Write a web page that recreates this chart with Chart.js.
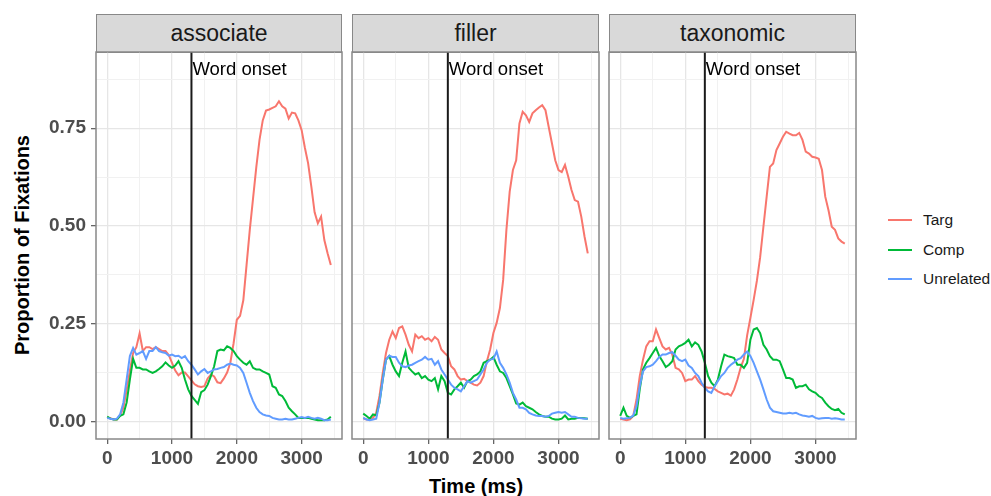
<!DOCTYPE html>
<html>
<head>
<meta charset="utf-8">
<script src="https://cdn.jsdelivr.net/npm/chart.js@4"></script>
<style>
  body { margin: 0; width: 991px; height: 496px; background: #fff; position: relative; overflow: hidden;
         font-family: "Liberation Sans", Arial, sans-serif; }
  canvas { position: absolute; }
  .strip { position: absolute; top: 14px; height: 39px; box-sizing: border-box; background: #d9d9d9;
           border: 1.5px solid #888; text-align: center; font-size: 23px; line-height: 36px; color: #1a1a1a; }
  .axis-title { position: absolute; font-weight: bold; font-size: 20px; color: #000; white-space: nowrap;
                transform: translate(-50%, -50%); }
  .legend-key { position: absolute; left: 888px; width: 24px; height: 2px; }
  .legend-label { position: absolute; left: 923px; font-size: 15.5px; color: #1a1a1a; transform: translateY(-50%); }
</style>
</head>
<body>

<div class="strip" style="left:96px;width:246px">associate</div>
<div class="strip" style="left:352px;width:247px">filler</div>
<div class="strip" style="left:609px;width:247px">taxonomic</div>

<canvas id="panel-associate" width="306" height="430" style="left:40px;top:44px"></canvas>
<canvas id="panel-filler" width="255" height="430" style="left:348px;top:44px"></canvas>
<canvas id="panel-taxonomic" width="255" height="430" style="left:605px;top:44px"></canvas>

<div class="axis-title" style="left:22px;top:245px;transform:translate(-50%,-50%) rotate(-90deg)">Proportion of Fixations</div>
<div class="axis-title" style="left:476px;top:486px">Time (ms)</div>

<div class="legend-key" style="top:219px;background:#F8766D"></div>
<div class="legend-label" style="top:220px">Targ</div>
<div class="legend-key" style="top:249px;background:#00BA38"></div>
<div class="legend-label" style="top:250px">Comp</div>
<div class="legend-key" style="top:278px;background:#619CFF"></div>
<div class="legend-label" style="top:279px">Unrelated</div>

<script>
// ── Data ──────────────────────────────────────────────────────────────────────

const timeMs = [
  0, 50, 100, 150, 200, 250, 300, 350, 400, 450,
  500, 550, 600, 650, 700, 750, 800, 850, 900, 950,
  1000, 1050, 1100, 1150, 1200, 1250, 1300, 1350, 1400, 1450,
  1500, 1550, 1600, 1650, 1700, 1750, 1800, 1850, 1900, 1950,
  2000, 2050, 2100, 2150, 2200, 2250, 2300, 2350, 2400, 2450,
  2500, 2550, 2600, 2650, 2700, 2750, 2800, 2850, 2900, 2950,
  3000, 3050, 3100, 3150, 3200, 3250, 3300, 3350, 3400, 3450
];

const assocTarg = [
  0.01, 0.008, 0.005, 0.005, 0.015, 0.035, 0.08, 0.13, 0.175, 0.19,
  0.225, 0.18, 0.19, 0.19, 0.185, 0.19, 0.185, 0.18, 0.18, 0.17,
  0.15, 0.13, 0.118, 0.125, 0.125, 0.115, 0.105, 0.095, 0.09, 0.088,
  0.09, 0.11, 0.12, 0.115, 0.1, 0.098, 0.11, 0.125, 0.15, 0.2,
  0.26, 0.27, 0.31, 0.40, 0.49, 0.57, 0.65, 0.72, 0.77, 0.795,
  0.798, 0.802, 0.806, 0.819, 0.806, 0.8, 0.775, 0.79, 0.788, 0.77,
  0.745, 0.7, 0.66, 0.6, 0.535, 0.507, 0.524, 0.464, 0.43, 0.4
];
const assocComp = [
  0.012, 0.007, 0.005, 0.005, 0.014, 0.018, 0.048, 0.107, 0.16, 0.137,
  0.137, 0.133, 0.133, 0.128, 0.124, 0.128, 0.134, 0.141, 0.151, 0.143,
  0.137, 0.143, 0.154, 0.137, 0.107, 0.082, 0.065, 0.055, 0.045, 0.075,
  0.08, 0.094, 0.116, 0.141, 0.18, 0.184, 0.182, 0.192, 0.188, 0.18,
  0.167, 0.158, 0.15, 0.145, 0.154, 0.137, 0.133, 0.133, 0.128, 0.124,
  0.12, 0.09, 0.086, 0.069, 0.065, 0.052, 0.035, 0.026, 0.018, 0.009,
  0.009, 0.009, 0.009, 0.007, 0.005, 0.003, 0.003, 0.003, 0.005, 0.012
];
const assocUnrel = [
  0.009, 0.007, 0.005, 0.007, 0.018, 0.048, 0.107, 0.167, 0.188, 0.171,
  0.175, 0.18, 0.16, 0.18, 0.18, 0.19, 0.18, 0.177, 0.175, 0.168,
  0.171, 0.167, 0.168, 0.162, 0.167, 0.154, 0.145, 0.133, 0.12, 0.128,
  0.134, 0.124, 0.128, 0.133, 0.134, 0.137, 0.139, 0.145, 0.148, 0.145,
  0.143, 0.137, 0.124, 0.099, 0.073, 0.052, 0.035, 0.024, 0.018, 0.015,
  0.014, 0.009, 0.007, 0.005, 0.005, 0.007, 0.005, 0.005, 0.007, 0.009,
  0.011, 0.009, 0.012, 0.009, 0.007, 0.009, 0.007, 0.003, 0.003, 0.005
];

const fillerTarg = [
  0.008, 0.005, 0.005, 0.009, 0.022, 0.065, 0.124, 0.175, 0.209, 0.23,
  0.213, 0.239, 0.243, 0.222, 0.196, 0.179, 0.222, 0.213, 0.218, 0.209,
  0.213, 0.205, 0.216, 0.209, 0.184, 0.175, 0.167, 0.141, 0.133, 0.116,
  0.107, 0.109, 0.103, 0.099, 0.094, 0.092, 0.099, 0.116, 0.154, 0.184,
  0.226, 0.252, 0.29, 0.362, 0.49, 0.587, 0.643, 0.668, 0.762, 0.792,
  0.783, 0.766, 0.788, 0.796, 0.803, 0.809, 0.796, 0.753, 0.711, 0.668,
  0.643, 0.638, 0.656, 0.626, 0.592, 0.566, 0.562, 0.524, 0.473, 0.43
];
const fillerComp = [
  0.02, 0.014, 0.007, 0.018, 0.015, 0.048, 0.107, 0.158, 0.167, 0.145,
  0.128, 0.116, 0.15, 0.179, 0.137, 0.128, 0.12, 0.124, 0.111, 0.116,
  0.107, 0.103, 0.111, 0.082, 0.116, 0.103, 0.073, 0.069, 0.082, 0.09,
  0.099, 0.086, 0.103, 0.107, 0.116, 0.12, 0.128, 0.15, 0.154, 0.158,
  0.165, 0.145, 0.128, 0.124, 0.111, 0.09, 0.069, 0.046, 0.043, 0.048,
  0.039, 0.035, 0.031, 0.024, 0.018, 0.014, 0.012, 0.012, 0.007, 0.005,
  0.005, 0.007, 0.015, 0.005, 0.007, 0.007, 0.009, 0.009, 0.008, 0.007
];
const fillerUnrel = [
  0.009, 0.005, 0.003, 0.005, 0.007, 0.048, 0.107, 0.158, 0.168, 0.165,
  0.165, 0.15, 0.141, 0.139, 0.143, 0.145, 0.15, 0.154, 0.158, 0.165,
  0.158, 0.16, 0.145, 0.154, 0.133, 0.12, 0.107, 0.094, 0.086, 0.082,
  0.077, 0.09, 0.103, 0.099, 0.103, 0.107, 0.12, 0.133, 0.15, 0.158,
  0.16, 0.179, 0.15, 0.137, 0.12, 0.099, 0.073, 0.056, 0.035, 0.035,
  0.031, 0.022, 0.018, 0.015, 0.014, 0.014, 0.012, 0.014, 0.02, 0.022,
  0.024, 0.022, 0.024, 0.018, 0.012, 0.012, 0.009, 0.008, 0.007, 0.007
];

const taxTarg = [
  0.007, 0.005, 0.003, 0.005, 0.014, 0.056, 0.116, 0.158, 0.192, 0.205,
  0.205, 0.235, 0.213, 0.192, 0.184, 0.188, 0.171, 0.137, 0.133, 0.124,
  0.103, 0.107, 0.107, 0.116, 0.103, 0.094, 0.088, 0.086, 0.086, 0.083,
  0.077, 0.073, 0.069, 0.071, 0.066, 0.082, 0.107, 0.137, 0.16, 0.22,
  0.265, 0.311, 0.36, 0.42, 0.498, 0.575, 0.651, 0.66, 0.694, 0.711,
  0.728, 0.741, 0.736, 0.732, 0.732, 0.738, 0.72, 0.69, 0.685, 0.677,
  0.675, 0.672, 0.643, 0.575, 0.54, 0.498, 0.49, 0.468, 0.46, 0.455
];
const taxComp = [
  0.014, 0.035, 0.014, 0.009, 0.014, 0.018, 0.082, 0.133, 0.15, 0.162,
  0.175, 0.188, 0.167, 0.154, 0.139, 0.145, 0.154, 0.184, 0.192, 0.196,
  0.201, 0.209, 0.192, 0.202, 0.196, 0.179, 0.15, 0.116, 0.099, 0.09,
  0.107, 0.141, 0.171, 0.167, 0.165, 0.162, 0.145, 0.145, 0.137, 0.15,
  0.209, 0.235, 0.239, 0.226, 0.196, 0.184, 0.167, 0.158, 0.158, 0.154,
  0.133, 0.111, 0.111, 0.107, 0.086, 0.09, 0.09, 0.094, 0.082, 0.077,
  0.073, 0.065, 0.06, 0.048, 0.039, 0.032, 0.029, 0.032, 0.022, 0.018
];
const taxUnrel = [
  0.009, 0.007, 0.008, 0.009, 0.015, 0.039, 0.09, 0.128, 0.139, 0.141,
  0.145, 0.154, 0.165, 0.171, 0.171, 0.175, 0.177, 0.168, 0.158, 0.154,
  0.158, 0.143, 0.137, 0.124, 0.116, 0.099, 0.086, 0.077, 0.073, 0.09,
  0.103, 0.116, 0.124, 0.137, 0.145, 0.151, 0.158, 0.162, 0.171, 0.179,
  0.167, 0.15, 0.128, 0.107, 0.082, 0.056, 0.035, 0.026, 0.024, 0.022,
  0.02, 0.02, 0.022, 0.02, 0.022, 0.018, 0.015, 0.014, 0.012, 0.014,
  0.009, 0.007, 0.008, 0.009, 0.009, 0.007, 0.008, 0.007, 0.005, 0.005
];

// axis breaks (major get labels, minor only get grid lines)
const xMajor = [0, 1000, 2000, 3000];
const xMinor = [500, 1500, 2500, 3500];
const yMajor = [0, 0.25, 0.5, 0.75];
const yMinor = [0.125, 0.375, 0.625, 0.875];

const onsetMs = 1300;
const onsetLabel = 'Word onset';
const onsetLabelY = 0.9;

const COLORS = { Targ: '#F8766D', Comp: '#00BA38', Unrelated: '#619CFF' };
const FONT = '"Liberation Sans", Arial, sans-serif';

// ── Panel decorations: border, onset line + label ─────────────────────────────

const panelDecor = {
  id: 'panelDecor',
  afterDatasetsDraw(chart) {
    const { ctx, chartArea: a, scales: { x, y } } = chart;
    const px = x.getPixelForValue(onsetMs);
    ctx.save();
    ctx.strokeStyle = '#1a1a1a';
    ctx.lineWidth = 2;
    ctx.beginPath();
    ctx.moveTo(px, a.top);
    ctx.lineTo(px, a.bottom);
    ctx.stroke();

    ctx.fillStyle = '#000';
    ctx.font = '18.5px ' + FONT;
    ctx.textBaseline = 'middle';
    ctx.fillText(onsetLabel, px + 1, y.getPixelForValue(onsetLabelY));

    ctx.strokeStyle = '#888';
    ctx.lineWidth = 1.5;
    ctx.strokeRect(a.left, a.top, a.right - a.left, a.bottom - a.top);
    ctx.restore();
  }
};

// ── Charts ────────────────────────────────────────────────────────────────────

function pts(values) {
  return values.map((v, i) => ({ x: timeMs[i], y: v }));
}

function gridOpts(major) {
  return {
    color: c => major.includes(c.tick.value) ? '#e6e6e6' : '#f1f1f1',
    lineWidth: c => major.includes(c.tick.value) ? 1.3 : 1,
    tickColor: c => major.includes(c.tick.value) ? '#666' : 'rgba(0,0,0,0)',
    tickWidth: 1.3,
    tickLength: 5
  };
}

function makePanel(id, targ, comp, unrel, showY) {
  const yGrid = gridOpts(yMajor);
  if (!showY) yGrid.drawTicks = false;

  return new Chart(document.getElementById(id), {
    type: 'line',
    data: {
      datasets: [
        { label: 'Targ', data: pts(targ), borderColor: COLORS.Targ, order: 3 },
        { label: 'Comp', data: pts(comp), borderColor: COLORS.Comp, order: 2 },
        { label: 'Unrelated', data: pts(unrel), borderColor: COLORS.Unrelated, order: 1 }
      ]
    },
    options: {
      responsive: false,
      animation: false,
      layout: { padding: { top: 8, right: 4, bottom: 0, left: showY ? 0 : 4 } },
      elements: {
        point: { radius: 0 },
        line: { borderWidth: 2, tension: 0, fill: false }
      },
      plugins: { legend: { display: false }, tooltip: { enabled: false } },
      scales: {
        x: {
          type: 'linear',
          min: -172.5,
          max: 3622.5,
          afterBuildTicks: ax => { ax.ticks = [...xMajor, ...xMinor].sort((a, b) => a - b).map(v => ({ value: v })); },
          afterFit: ax => { ax.height = 35; ax.paddingLeft = 0; ax.paddingRight = 0; },
          border: { display: false },
          grid: gridOpts(xMajor),
          ticks: {
            autoSkip: false,
            maxRotation: 0,
            padding: 3,
            color: '#4d4d4d',
            font: { family: FONT, size: 19, weight: 'bold' },
            callback: v => xMajor.includes(v) ? String(v) : ''
          }
        },
        y: {
          type: 'linear',
          min: -0.045,
          max: 0.945,
          afterBuildTicks: ax => { ax.ticks = [...yMajor, ...yMinor].sort((a, b) => a - b).map(v => ({ value: v })); },
          afterFit: ax => { ax.width = showY ? 56 : 0; ax.paddingTop = 0; ax.paddingBottom = 0; },
          border: { display: false },
          grid: yGrid,
          ticks: {
            display: showY,
            autoSkip: false,
            padding: 5,
            color: '#4d4d4d',
            font: { family: FONT, size: 19, weight: 'bold' },
            callback: v => yMajor.includes(v) ? v.toFixed(2) : ''
          }
        }
      }
    },
    plugins: [panelDecor]
  });
}

makePanel('panel-associate', assocTarg, assocComp, assocUnrel, true);
makePanel('panel-filler', fillerTarg, fillerComp, fillerUnrel, false);
makePanel('panel-taxonomic', taxTarg, taxComp, taxUnrel, false);
</script>
</body>
</html>
